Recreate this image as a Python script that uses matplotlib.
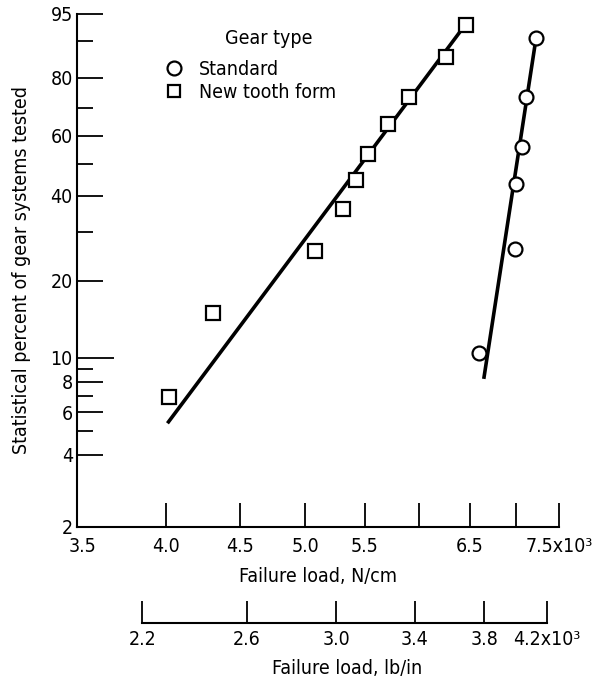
import numpy as np
import matplotlib
matplotlib.use("Agg")
import matplotlib.pyplot as plt
from matplotlib.ticker import NullLocator
from matplotlib.lines import Line2D

plt.rcParams['font.family'] = ['DejaVu Sans']
plt.rcParams['font.stretch'] = 'condensed'

# === data (failure load in N/cm x10^3, percent failed) ===
std_load = [6.60, 6.99, 7.00, 7.07, 7.11, 7.23]
std_pct = [10.4, 26.2, 43.5, 55.8, 73.8, 90.6]
new_load = [4.02, 4.31, 5.08, 5.31, 5.42, 5.53, 5.71, 5.90, 6.26, 6.46]
new_pct = [6.9, 15.0, 25.7, 36.0, 44.7, 53.4, 64.3, 73.8, 86.1, 93.3]

# fitted Weibull lines (end points)
std_fit_load = [6.65, 7.22]
std_fit_pct = [8.2, 89.4]
new_fit_load = [4.01, 6.42]
new_fit_pct = [5.4, 92.4]

x_ticks = [3.5, 4.0, 4.5, 5.0, 5.5, 6.0, 6.5, 7.0, 7.5]
x_labels = ["3.5", "4.0", "4.5", "5.0", "5.5", "", "6.5", "", "7.5x10³"]
lb_ticks = [2.2, 2.6, 3.0, 3.4, 3.8, 4.2]
lb_labels = ["2.2", "2.6", "3.0", "3.4", "3.8", "4.2x10³"]
y_major = [2, 4, 6, 8, 10, 20, 40, 60, 80, 95]
y_minor = [5, 7, 9, 30, 50, 70, 90]

N_PER_LB = 1.75127  # N/cm per lb/in


def weib(p):
    p = np.clip(np.asarray(p, dtype=float), 1e-6, 99.9999)
    return np.log(-np.log(1 - p / 100.0))


def weib_inv(t):
    return 100.0 * (1 - np.exp(-np.exp(t)))


# === plot ===
fig = plt.figure(figsize=(6.05, 6.78), dpi=100)
ax = fig.add_axes([77 / 605, 151 / 678, 482 / 605, 513 / 678])

ax.set_xscale('log')
ax.set_yscale('function', functions=(weib, weib_inv))
ax.set_xlim(3.47, 7.5)
ax.set_ylim(2, 95)

ax.plot(new_fit_load, new_fit_pct, color='black', lw=2.6, solid_capstyle='butt')
ax.plot(std_fit_load, std_fit_pct, color='black', lw=2.6, solid_capstyle='butt')
ax.plot(new_load, new_pct, ls='none', marker='s', ms=10, mfc='white', mec='black', mew=1.6)
ax.plot(std_load, std_pct, ls='none', marker='o', ms=10, mfc='white', mec='black', mew=1.6)

for s in ['top', 'right']:
    ax.spines[s].set_visible(False)
for s in ['left', 'bottom']:
    ax.spines[s].set_linewidth(1.5)

ax.set_xticks(x_ticks, x_labels)
ax.xaxis.set_minor_locator(NullLocator())
ax.tick_params(axis='x', direction='in', length=17, width=1.3, pad=7, labelsize=14)
ax.xaxis.get_major_ticks()[0].tick1line.set_visible(False)

ax.set_yticks(y_major, [str(v) for v in y_major])
ax.set_yticks(y_minor, minor=True)
ax.yaxis.set_minor_formatter(plt.NullFormatter())
ax.tick_params(axis='y', which='major', direction='in', length=18.5, width=1.3, pad=3, labelsize=14)
ax.tick_params(axis='y', which='minor', direction='in', length=11.5, width=1.3)
ax.yaxis.get_major_ticks()[y_major.index(10)].tick1line.set_markersize(26.5)

ax.set_xlabel("Failure load, N/cm", fontsize=14, labelpad=8)
ax.set_ylabel("Statistical percent of gear systems tested", fontsize=14)
ax.yaxis.set_label_coords(-0.095, 0.50)

# second load scale in lb/in
sec = ax.secondary_xaxis(-0.187, functions=(lambda v: v / N_PER_LB, lambda v: v * N_PER_LB))
sec.set_xticks(lb_ticks, lb_labels)
sec.xaxis.set_minor_locator(NullLocator())
sec.spines['bottom'].set_bounds(lb_ticks[0], lb_ticks[-1])
sec.spines['bottom'].set_linewidth(1.5)
sec.tick_params(axis='x', direction='in', length=16, width=1.3, pad=5, labelsize=14)
sec.set_xlabel("Failure load, lb/in", fontsize=14, labelpad=7)
sec.xaxis.label.set_x(0.56)

# legend
handles = [
    Line2D([], [], ls='none', marker='o', ms=10, mfc='white', mec='black', mew=1.6),
    Line2D([], [], ls='none', marker='s', ms=9, mfc='white', mec='black', mew=1.6),
]
ax.legend(handles, ["Standard", "New tooth form"],
          loc='upper left', bbox_to_anchor=(0.184, 0.91), frameon=False,
          fontsize=14, handlelength=0.9, handletextpad=0.8,
          labelspacing=0.2, borderpad=0, borderaxespad=0)
ax.text(0.307, 0.953, "Gear type", transform=ax.transAxes, fontsize=14,
        ha='left', va='center')

fig.savefig("out.png", dpi=100)
